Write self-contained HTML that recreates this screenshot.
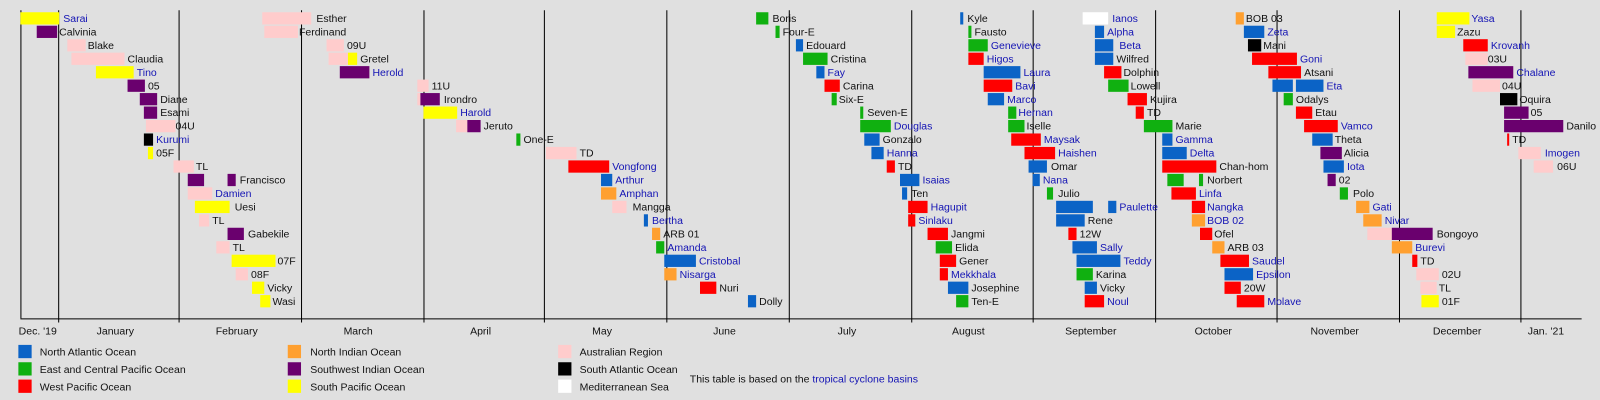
<!DOCTYPE html>
<html><head><meta charset="utf-8"><style>
html,body{margin:0;padding:0;background:#e0e0e0;}
svg{display:block;font-family:"Liberation Sans",sans-serif;}
.a{fill:#0b63c6}.e{fill:#10b010}.w{fill:#ff0000}.n{fill:#ffa030}.s{fill:#6a006e}.p{fill:#ffff00}.u{fill:#ffcccc}.k{fill:#000}.m{fill:#fff}
text{font-size:10.3px;fill:#111}
text.l{fill:#1414b4}
</style></head><body>
<svg width="1600" height="400" viewBox="0 0 1568 392" xmlns="http://www.w3.org/2000/svg">
<rect x="0" y="0" width="1568" height="392" fill="#e0e0e0"/>
<g stroke="#000" stroke-width="1">
<line x1="20.5" y1="10" x2="20.5" y2="312"/>
<line x1="57.5" y1="10" x2="57.5" y2="316"/><line x1="175.5" y1="10" x2="175.5" y2="316"/><line x1="295.5" y1="10" x2="295.5" y2="316"/><line x1="415.5" y1="10" x2="415.5" y2="316"/><line x1="533.5" y1="10" x2="533.5" y2="316"/><line x1="653.5" y1="10" x2="653.5" y2="316"/><line x1="773.5" y1="10" x2="773.5" y2="316"/><line x1="893.5" y1="10" x2="893.5" y2="316"/><line x1="1012.5" y1="10" x2="1012.5" y2="316"/><line x1="1132.5" y1="10" x2="1132.5" y2="316"/><line x1="1251.5" y1="10" x2="1251.5" y2="316"/><line x1="1371.5" y1="10" x2="1371.5" y2="316"/><line x1="1490.5" y1="10" x2="1490.5" y2="316"/>
<line x1="20" y1="312.5" x2="1550" y2="312.5"/>
</g>
<g text-anchor="middle">
<text x="37" y="328">Dec. '19</text><text x="113" y="328">January</text><text x="232" y="328">February</text><text x="351" y="328">March</text><text x="471" y="328">April</text><text x="590" y="328">May</text><text x="710" y="328">June</text><text x="830" y="328">July</text><text x="949" y="328">August</text><text x="1069" y="328">September</text><text x="1189" y="328">October</text><text x="1308" y="328">November</text><text x="1428" y="328">December</text><text x="1515" y="328">Jan. '21</text>
</g>

<g transform="translate(0,18)">
<rect class="p" x="20" y="-6" width="38" height="12"/><text class="l" x="62" y="3.5">Sarai</text>
<rect class="u" x="257" y="-6" width="48" height="12"/><text x="310" y="3.5">Esther</text>
<rect class="e" x="741" y="-6" width="12" height="12"/><text x="757" y="3.5">Boris</text>
<rect class="a" x="941" y="-6" width="3" height="12"/><text x="948" y="3.5">Kyle</text>
<rect class="m" x="1061" y="-6" width="25" height="12"/><text class="l" x="1090" y="3.5">Ianos</text>
<rect class="n" x="1211" y="-6" width="8" height="12"/><text x="1221" y="3.5">BOB 03</text>
<rect class="p" x="1408" y="-6" width="32" height="12"/><text class="l" x="1442" y="3.5">Yasa</text>
</g>
<g transform="translate(0,31.2)">
<rect class="s" x="36" y="-6" width="20" height="12"/><text x="58" y="3.5">Calvinia</text>
<rect class="u" x="259" y="-6" width="33" height="12"/><text x="293" y="3.5">Ferdinand</text>
<rect class="e" x="760" y="-6" width="4" height="12"/><text x="767" y="3.5">Four-E</text>
<rect class="e" x="949" y="-6" width="3" height="12"/><text x="955" y="3.5">Fausto</text>
<rect class="a" x="1073" y="-6" width="9" height="12"/><text class="l" x="1085" y="3.5">Alpha</text>
<rect class="a" x="1219" y="-6" width="20" height="12"/><text class="l" x="1242" y="3.5">Zeta</text>
<rect class="p" x="1408" y="-6" width="18" height="12"/><text x="1428" y="3.5">Zazu</text>
</g>
<g transform="translate(0,44.4)">
<rect class="u" x="66" y="-6" width="18" height="12"/><text x="86" y="3.5">Blake</text>
<rect class="u" x="320" y="-6" width="17" height="12"/><text x="340" y="3.5">09U</text>
<rect class="a" x="780" y="-6" width="7" height="12"/><text x="790" y="3.5">Edouard</text>
<rect class="e" x="949" y="-6" width="19" height="12"/><text class="l" x="971" y="3.5">Genevieve</text>
<rect class="a" x="1073" y="-6" width="18" height="12"/><text class="l" x="1097" y="3.5">Beta</text>
<rect class="k" x="1223" y="-6" width="13" height="12"/><text x="1238" y="3.5">Mani</text>
<rect class="w" x="1434" y="-6" width="24" height="12"/><text class="l" x="1461" y="3.5">Krovanh</text>
</g>
<g transform="translate(0,57.6)">
<rect class="u" x="70" y="-6" width="52" height="12"/><text x="125" y="3.5">Claudia</text>
<rect class="u" x="322" y="-6" width="19" height="12"/><rect class="p" x="341" y="-6" width="9" height="12"/><text x="353" y="3.5">Gretel</text>
<rect class="e" x="787" y="-6" width="24" height="12"/><text x="814" y="3.5">Cristina</text>
<rect class="w" x="949" y="-6" width="15" height="12"/><text class="l" x="967" y="3.5">Higos</text>
<rect class="a" x="1073" y="-6" width="18" height="12"/><text x="1094" y="3.5">Wilfred</text>
<rect class="w" x="1227" y="-6" width="44" height="12"/><text class="l" x="1274" y="3.5">Goni</text>
<rect class="u" x="1436" y="-6" width="22" height="12"/><text x="1458" y="3.5">03U</text>
</g>
<g transform="translate(0,70.8)">
<rect class="p" x="94" y="-6" width="37" height="12"/><text class="l" x="134" y="3.5">Tino</text>
<rect class="s" x="333" y="-6" width="29" height="12"/><text class="l" x="365" y="3.5">Herold</text>
<rect class="a" x="800" y="-6" width="8" height="12"/><text class="l" x="811" y="3.5">Fay</text>
<rect class="a" x="964" y="-6" width="36" height="12"/><text class="l" x="1003" y="3.5">Laura</text>
<rect class="w" x="1082" y="-6" width="17" height="12"/><text x="1101" y="3.5">Dolphin</text>
<rect class="w" x="1243" y="-6" width="32" height="12"/><text x="1278" y="3.5">Atsani</text>
<rect class="s" x="1439" y="-6" width="44" height="12"/><text class="l" x="1486" y="3.5">Chalane</text>
</g>
<g transform="translate(0,84)">
<rect class="s" x="125" y="-6" width="17" height="12"/><text x="145" y="3.5">05</text>
<rect class="u" x="409" y="-6" width="11" height="12"/><text x="423" y="3.5">11U</text>
<rect class="w" x="808" y="-6" width="15" height="12"/><text x="826" y="3.5">Carina</text>
<rect class="w" x="964" y="-6" width="28" height="12"/><text class="l" x="995" y="3.5">Bavi</text>
<rect class="e" x="1086" y="-6" width="20" height="12"/><text x="1108" y="3.5">Lowell</text>
<rect class="a" x="1247" y="-6" width="20" height="12"/><rect class="a" x="1270" y="-6" width="27" height="12"/><text class="l" x="1300" y="3.5">Eta</text>
<rect class="u" x="1443" y="-6" width="27" height="12"/><text x="1472" y="3.5">04U</text>
</g>
<g transform="translate(0,97.2)">
<rect class="s" x="137" y="-6" width="17" height="12"/><text x="157" y="3.5">Diane</text>
<rect class="u" x="409" y="-6" width="3" height="12"/><rect class="s" x="412" y="-6" width="19" height="12"/><text x="435" y="3.5">Irondro</text>
<rect class="e" x="815" y="-6" width="5" height="12"/><text x="822" y="3.5">Six-E</text>
<rect class="a" x="968" y="-6" width="16" height="12"/><text class="l" x="987" y="3.5">Marco</text>
<rect class="w" x="1105" y="-6" width="19" height="12"/><text x="1127" y="3.5">Kujira</text>
<rect class="e" x="1258" y="-6" width="9" height="12"/><text x="1270" y="3.5">Odalys</text>
<rect class="k" x="1470" y="-6" width="17" height="12"/><text x="1489" y="3.5">Oquira</text>
</g>
<g transform="translate(0,110.4)">
<rect class="s" x="141" y="-6" width="13" height="12"/><text x="157" y="3.5">Esami</text>
<rect class="p" x="415" y="-6" width="33" height="12"/><text class="l" x="451" y="3.5">Harold</text>
<rect class="e" x="843" y="-6" width="3" height="12"/><text x="850" y="3.5">Seven-E</text>
<rect class="e" x="988" y="-6" width="8" height="12"/><text class="l" x="998" y="3.5">Hernan</text>
<rect class="w" x="1113" y="-6" width="8" height="12"/><text x="1124" y="3.5">TD</text>
<rect class="w" x="1270" y="-6" width="16" height="12"/><text x="1289" y="3.5">Etau</text>
<rect class="s" x="1474" y="-6" width="24" height="12"/><text x="1500" y="3.5">05</text>
</g>
<g transform="translate(0,123.6)">
<rect class="u" x="143" y="-6" width="29" height="12"/><text x="172" y="3.5">04U</text>
<rect class="u" x="447" y="-6" width="11" height="12"/><rect class="s" x="458" y="-6" width="13" height="12"/><text x="474" y="3.5">Jeruto</text>
<rect class="e" x="843" y="-6" width="30" height="12"/><text class="l" x="876" y="3.5">Douglas</text>
<rect class="e" x="988" y="-6" width="16" height="12"/><text x="1006" y="3.5">Iselle</text>
<rect class="e" x="1121" y="-6" width="28" height="12"/><text x="1152" y="3.5">Marie</text>
<rect class="w" x="1278" y="-6" width="33" height="12"/><text class="l" x="1314" y="3.5">Vamco</text>
<rect class="s" x="1474" y="-6" width="58" height="12"/><text x="1535" y="3.5">Danilo</text>
</g>
<g transform="translate(0,136.8)">
<rect class="k" x="141" y="-6" width="9" height="12"/><text class="l" x="153" y="3.5">Kurumi</text>
<rect class="e" x="506" y="-6" width="4" height="12"/><text x="513" y="3.5">One-E</text>
<rect class="a" x="847" y="-6" width="15" height="12"/><text x="865" y="3.5">Gonzalo</text>
<rect class="w" x="991" y="-6" width="29" height="12"/><text class="l" x="1023" y="3.5">Maysak</text>
<rect class="a" x="1139" y="-6" width="10" height="12"/><text class="l" x="1152" y="3.5">Gamma</text>
<rect class="a" x="1286" y="-6" width="20" height="12"/><text x="1308" y="3.5">Theta</text>
<rect class="w" x="1477" y="-6" width="2" height="12"/><text x="1482" y="3.5">TD</text>
</g>
<g transform="translate(0,150)">
<rect class="p" x="145" y="-6" width="5" height="12"/><text x="153" y="3.5">05F</text>
<rect class="u" x="535" y="-6" width="30" height="12"/><text x="568" y="3.5">TD</text>
<rect class="a" x="854" y="-6" width="12" height="12"/><text class="l" x="869" y="3.5">Hanna</text>
<rect class="w" x="1004" y="-6" width="30" height="12"/><text class="l" x="1037" y="3.5">Haishen</text>
<rect class="a" x="1139" y="-6" width="24" height="12"/><text class="l" x="1166" y="3.5">Delta</text>
<rect class="s" x="1294" y="-6" width="21" height="12"/><text x="1317" y="3.5">Alicia</text>
<rect class="u" x="1488" y="-6" width="22" height="12"/><text class="l" x="1514" y="3.5">Imogen</text>
</g>
<g transform="translate(0,163.2)">
<rect class="u" x="170" y="-6" width="20" height="12"/><text x="192" y="3.5">TL</text>
<rect class="w" x="557" y="-6" width="40" height="12"/><text class="l" x="600" y="3.5">Vongfong</text>
<rect class="w" x="869" y="-6" width="8" height="12"/><text x="880" y="3.5">TD</text>
<rect class="a" x="1008" y="-6" width="18" height="12"/><text x="1030" y="3.5">Omar</text>
<rect class="w" x="1139" y="-6" width="53" height="12"/><text x="1195" y="3.5">Chan-hom</text>
<rect class="a" x="1297" y="-6" width="20" height="12"/><text class="l" x="1320" y="3.5">Iota</text>
<rect class="u" x="1503" y="-6" width="19" height="12"/><text x="1526" y="3.5">06U</text>
</g>
<g transform="translate(0,176.4)">
<rect class="s" x="184" y="-6" width="16" height="12"/><rect class="s" x="223" y="-6" width="8" height="12"/><text x="235" y="3.5">Francisco</text>
<rect class="a" x="589" y="-6" width="11" height="12"/><text class="l" x="603" y="3.5">Arthur</text>
<rect class="a" x="882" y="-6" width="19" height="12"/><text class="l" x="904" y="3.5">Isaias</text>
<rect class="a" x="1012" y="-6" width="7" height="12"/><text class="l" x="1022" y="3.5">Nana</text>
<rect class="e" x="1144" y="-6" width="16" height="12"/><rect class="e" x="1175" y="-6" width="4" height="12"/><text x="1183" y="3.5">Norbert</text>
<rect class="s" x="1301" y="-6" width="8" height="12"/><text x="1312" y="3.5">02</text>
</g>
<g transform="translate(0,189.6)">
<rect class="u" x="184" y="-6" width="24" height="12"/><text class="l" x="211" y="3.5">Damien</text>
<rect class="n" x="589" y="-6" width="15" height="12"/><text class="l" x="607" y="3.5">Amphan</text>
<rect class="a" x="884" y="-6" width="5" height="12"/><text x="893" y="3.5">Ten</text>
<rect class="e" x="1026" y="-6" width="6" height="12"/><text x="1037" y="3.5">Julio</text>
<rect class="w" x="1148" y="-6" width="24" height="12"/><text class="l" x="1175" y="3.5">Linfa</text>
<rect class="e" x="1313" y="-6" width="8" height="12"/><text x="1326" y="3.5">Polo</text>
</g>
<g transform="translate(0,202.8)">
<rect class="p" x="191" y="-6" width="34" height="12"/><text x="230" y="3.5">Uesi</text>
<rect class="u" x="600" y="-6" width="14" height="12"/><text x="620" y="3.5">Mangga</text>
<rect class="w" x="890" y="-6" width="19" height="12"/><text class="l" x="912" y="3.5">Hagupit</text>
<rect class="a" x="1035" y="-6" width="36" height="12"/><rect class="a" x="1086" y="-6" width="8" height="12"/><text class="l" x="1097" y="3.5">Paulette</text>
<rect class="w" x="1168" y="-6" width="13" height="12"/><text class="l" x="1183" y="3.5">Nangka</text>
<rect class="n" x="1329" y="-6" width="13" height="12"/><text class="l" x="1345" y="3.5">Gati</text>
</g>
<g transform="translate(0,216)">
<rect class="u" x="195" y="-6" width="10" height="12"/><text x="208" y="3.5">TL</text>
<rect class="a" x="631" y="-6" width="4" height="12"/><text class="l" x="639" y="3.5">Bertha</text>
<rect class="w" x="890" y="-6" width="7" height="12"/><text class="l" x="900" y="3.5">Sinlaku</text>
<rect class="a" x="1035" y="-6" width="28" height="12"/><text x="1066" y="3.5">Rene</text>
<rect class="n" x="1168" y="-6" width="13" height="12"/><text class="l" x="1183" y="3.5">BOB 02</text>
<rect class="n" x="1336" y="-6" width="18" height="12"/><text class="l" x="1357" y="3.5">Nivar</text>
</g>
<g transform="translate(0,229.2)">
<rect class="s" x="223" y="-6" width="16" height="12"/><text x="243" y="3.5">Gabekile</text>
<rect class="n" x="639" y="-6" width="8" height="12"/><text x="650" y="3.5">ARB 01</text>
<rect class="w" x="909" y="-6" width="20" height="12"/><text x="932" y="3.5">Jangmi</text>
<rect class="w" x="1047" y="-6" width="8" height="12"/><text x="1058" y="3.5">12W</text>
<rect class="w" x="1176" y="-6" width="12" height="12"/><text x="1190" y="3.5">Ofel</text>
<rect class="u" x="1340" y="-6" width="24" height="12"/><rect class="s" x="1364" y="-6" width="40" height="12"/><text x="1408" y="3.5">Bongoyo</text>
</g>
<g transform="translate(0,242.4)">
<rect class="u" x="212" y="-6" width="13" height="12"/><text x="228" y="3.5">TL</text>
<rect class="e" x="643" y="-6" width="8" height="12"/><text class="l" x="654" y="3.5">Amanda</text>
<rect class="e" x="917" y="-6" width="16" height="12"/><text x="936" y="3.5">Elida</text>
<rect class="a" x="1051" y="-6" width="24" height="12"/><text class="l" x="1078" y="3.5">Sally</text>
<rect class="n" x="1188" y="-6" width="12" height="12"/><text x="1203" y="3.5">ARB 03</text>
<rect class="n" x="1364" y="-6" width="20" height="12"/><text class="l" x="1387" y="3.5">Burevi</text>
</g>
<g transform="translate(0,255.6)">
<rect class="p" x="227" y="-6" width="43" height="12"/><text x="272" y="3.5">07F</text>
<rect class="a" x="651" y="-6" width="31" height="12"/><text class="l" x="685" y="3.5">Cristobal</text>
<rect class="w" x="921" y="-6" width="16" height="12"/><text x="940" y="3.5">Gener</text>
<rect class="a" x="1055" y="-6" width="43" height="12"/><text class="l" x="1101" y="3.5">Teddy</text>
<rect class="w" x="1196" y="-6" width="28" height="12"/><text class="l" x="1227" y="3.5">Saudel</text>
<rect class="w" x="1384" y="-6" width="5" height="12"/><text x="1392" y="3.5">TD</text>
</g>
<g transform="translate(0,268.8)">
<rect class="u" x="231" y="-6" width="12" height="12"/><text x="246" y="3.5">08F</text>
<rect class="n" x="651" y="-6" width="12" height="12"/><text class="l" x="666" y="3.5">Nisarga</text>
<rect class="w" x="921" y="-6" width="8" height="12"/><text class="l" x="932" y="3.5">Mekkhala</text>
<rect class="e" x="1055" y="-6" width="16" height="12"/><text x="1074" y="3.5">Karina</text>
<rect class="a" x="1200" y="-6" width="28" height="12"/><text class="l" x="1231" y="3.5">Epsilon</text>
<rect class="u" x="1388" y="-6" width="22" height="12"/><text x="1413" y="3.5">02U</text>
</g>
<g transform="translate(0,282)">
<rect class="p" x="247" y="-6" width="12" height="12"/><text x="262" y="3.5">Vicky</text>
<rect class="w" x="686" y="-6" width="16" height="12"/><text x="705" y="3.5">Nuri</text>
<rect class="a" x="929" y="-6" width="20" height="12"/><text x="952" y="3.5">Josephine</text>
<rect class="a" x="1063" y="-6" width="12" height="12"/><text x="1078" y="3.5">Vicky</text>
<rect class="w" x="1200" y="-6" width="16" height="12"/><text x="1219" y="3.5">20W</text>
<rect class="u" x="1392" y="-6" width="16" height="12"/><text x="1410" y="3.5">TL</text>
</g>
<g transform="translate(0,295.2)">
<rect class="p" x="255" y="-6" width="10" height="12"/><text x="267" y="3.5">Wasi</text>
<rect class="a" x="733" y="-6" width="8" height="12"/><text x="744" y="3.5">Dolly</text>
<rect class="e" x="937" y="-6" width="12" height="12"/><text x="952" y="3.5">Ten-E</text>
<rect class="w" x="1063" y="-6" width="19" height="12"/><text class="l" x="1085" y="3.5">Noul</text>
<rect class="w" x="1212" y="-6" width="27" height="12"/><text class="l" x="1242" y="3.5">Molave</text>
<rect class="p" x="1393" y="-6" width="17" height="12"/><text x="1413" y="3.5">01F</text>
</g>

<g>
<rect class="a" x="18" y="338" width="13" height="13"/><text x="39" y="348.5">North Atlantic Ocean</text>
<rect class="e" x="18" y="355" width="13" height="13"/><text x="39" y="365.5">East and Central Pacific Ocean</text>
<rect class="w" x="18" y="372" width="13" height="13"/><text x="39" y="382.5">West Pacific Ocean</text>
<rect class="n" x="282" y="338" width="13" height="13"/><text x="304" y="348.5">North Indian Ocean</text>
<rect class="s" x="282" y="355" width="13" height="13"/><text x="304" y="365.5">Southwest Indian Ocean</text>
<rect class="p" x="282" y="372" width="13" height="13"/><text x="304" y="382.5">South Pacific Ocean</text>
<rect class="u" x="547" y="338" width="13" height="13"/><text x="568" y="348.5">Australian Region</text>
<rect class="k" x="547" y="355" width="13" height="13"/><text x="568" y="365.5">South Atlantic Ocean</text>
<rect class="m" x="547" y="372" width="13" height="13"/><text x="568" y="382.5">Mediterranean Sea</text>
<text x="676" y="375">This table is based on the <tspan fill="#1414b4">tropical cyclone basins</tspan></text>
</g>
</svg>
</body></html>
